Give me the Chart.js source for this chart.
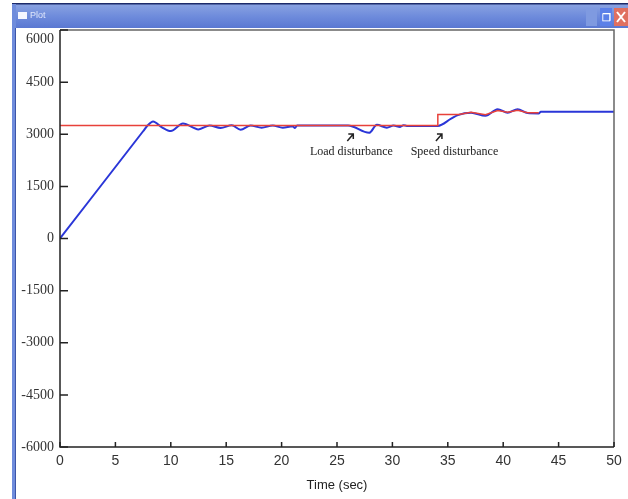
<!DOCTYPE html>
<html>
<head>
<meta charset="utf-8">
<script src="https://cdn.jsdelivr.net/npm/chart.js@4/dist/chart.umd.min.js"></script>
<style>
html, body { margin: 0; padding: 0; background: #fff; }
#wrap { width: 628px; height: 499px; position: relative; }
</style>
</head>
<body>
<div id="wrap"><canvas id="plot" width="628" height="499"></canvas></div>
<script>
// reference (set point) speed
const refTime  = [0, 34.1, 34.1, 36.0, 37.1, 38.4, 39.5, 40.4, 41.3, 42.2, 43.2];
const refSpeed = [3250, 3250, 3570, 3570, 3630, 3560, 3680, 3630, 3690, 3620, 3620];

// measured speed
const motorTime  = [0, 7.5, 7.9, 8.4, 9.2, 10.0, 11.1, 12.5, 13.5, 14.5, 15.5, 16.3, 17.2, 18.2, 19.2, 20.1, 21.0, 21.2, 21.4,
                    26.0, 27.9, 28.6, 29.5, 30.1, 30.7, 31.0, 31.3, 34.1, 35.3, 35.9, 37.1, 38.4, 39.5, 40.4, 41.3, 42.2, 43.2, 43.4, 50];
const motorSpeed = [0, 3086, 3250, 3370, 3200, 3090, 3310, 3140, 3250, 3180, 3260, 3130, 3250, 3190, 3250, 3190, 3230, 3180, 3250,
                    3250, 3040, 3270, 3190, 3250, 3210, 3260, 3240, 3240, 3447, 3550, 3620, 3530, 3720, 3620, 3720, 3610, 3600, 3650, 3650];

const yTicks = [-6000, -4500, -3000, -1500, 0, 1500, 3000, 4500, 6000];
const xTicks = [0, 5, 10, 15, 20, 25, 30, 35, 40, 45, 50];

const notes = [
    { text: 'Load disturbance',  x: 26.3, y: 2480, ax: 26.2, ay: 2950 },
    { text: 'Speed disturbance', x: 35.6, y: 2480, ax: 34.2, ay: 2950 }
];

function toPoints(xs, ys){
    return xs.map((x, i) => ({ x: x, y: ys[i] }));
}

function yLabel(v){
    return v < 0 ? '-' + String(Math.abs(v)) : String(v);
}

// window frame, plot box, inward ticks and notes
const framePlugin = {
    id: 'frame',
    beforeDraw(chart){
        const ctx = chart.ctx;
        ctx.save();
        ctx.fillStyle = '#fff';
        ctx.fillRect(0, 0, chart.width, chart.height);
        // title bar
        const g = ctx.createLinearGradient(0, 4, 0, 28);
        g.addColorStop(0, '#8aa3e2');
        g.addColorStop(0.5, '#6f8cdc');
        g.addColorStop(1, '#5a78d2');
        ctx.fillStyle = g;
        ctx.fillRect(12, 4, 616, 24);
        ctx.fillStyle = '#1c2a6a';
        ctx.fillRect(12, 3, 616, 1.5);
        // left border
        ctx.fillStyle = '#6f8cdc';
        ctx.fillRect(12, 4, 4, 495);
        ctx.fillStyle = '#3c55a8';
        ctx.fillRect(15, 28, 1, 471);
        // icon + caption
        ctx.fillStyle = '#f4f6ff';
        ctx.fillRect(18, 12, 9, 7);
        ctx.fillStyle = '#dfe6fb';
        ctx.font = '9px "Liberation Sans"';
        ctx.textBaseline = 'middle';
        ctx.fillText('Plot', 30, 16);
        // buttons
        ctx.fillStyle = '#7f9ae0';
        ctx.fillRect(586, 8, 11, 18);
        ctx.fillStyle = '#5b80e8';
        ctx.fillRect(600, 8, 12, 18);
        ctx.fillStyle = '#fff';
        ctx.font = 'bold 10px "Liberation Sans"';
        ctx.textAlign = 'center';
        ctx.fillText('\u2750', 606, 18);
        ctx.fillStyle = '#e07060';
        ctx.fillRect(614, 8, 14, 18);
        ctx.strokeStyle = '#fff';
        ctx.lineWidth = 2;
        ctx.beginPath();
        ctx.moveTo(617, 12); ctx.lineTo(625, 22);
        ctx.moveTo(625, 12); ctx.lineTo(617, 22);
        ctx.stroke();
        ctx.restore();
    },
    afterDatasetsDraw(chart){
        const ctx = chart.ctx;
        const a = chart.chartArea;
        const xs = chart.scales.x;
        const ys = chart.scales.y;
        ctx.save();
        // plot box
        ctx.strokeStyle = '#666';
        ctx.lineWidth = 1.5;
        ctx.beginPath();
        ctx.moveTo(a.left, a.top);
        ctx.lineTo(a.right, a.top);
        ctx.lineTo(a.right, a.bottom);
        ctx.stroke();
        ctx.strokeStyle = '#222';
        ctx.beginPath();
        ctx.moveTo(a.left, a.top);
        ctx.lineTo(a.left, a.bottom);
        ctx.lineTo(a.right, a.bottom);
        ctx.stroke();
        // inward ticks
        ctx.lineWidth = 1.5;
        ctx.beginPath();
        yTicks.forEach(v => {
            const py = ys.getPixelForValue(v);
            ctx.moveTo(a.left, py);
            ctx.lineTo(a.left + 8, py);
        });
        xTicks.forEach(v => {
            const px = xs.getPixelForValue(v);
            ctx.moveTo(px, a.bottom);
            ctx.lineTo(px, a.bottom - 5);
        });
        ctx.stroke();
        // y tick labels (top one sits a little below the box edge, as in the original)
        ctx.fillStyle = '#333';
        ctx.font = '14px "Liberation Serif"';
        ctx.textAlign = 'right';
        ctx.textBaseline = 'middle';
        yTicks.forEach(v => {
            const py = Math.max(ys.getPixelForValue(v), a.top + 9);
            ctx.fillText(yLabel(v), a.left - 6, py);
        });
        // notes
        ctx.fillStyle = '#222';
        ctx.strokeStyle = '#222';
        ctx.font = '12px "Liberation Serif"';
        ctx.textAlign = 'center';
        notes.forEach(n => {
            ctx.fillText(n.text, xs.getPixelForValue(n.x), ys.getPixelForValue(n.y));
            const px = xs.getPixelForValue(n.ax);
            const py = ys.getPixelForValue(n.ay);
            ctx.lineWidth = 1.5;
            ctx.beginPath();
            ctx.moveTo(px - 3, py + 5);
            ctx.lineTo(px + 3, py - 2);
            ctx.moveTo(px - 2, py - 2);
            ctx.lineTo(px + 3, py - 2);
            ctx.lineTo(px + 3, py + 3);
            ctx.stroke();
        });
        ctx.restore();
    }
};

new Chart(document.getElementById('plot'), {
    type: 'line',
    data: {
        datasets: [{
            label: 'Reference',
            data: toPoints(refTime, refSpeed),
            borderColor: '#e8413a',
            borderWidth: 1.5,
            pointRadius: 0,
            tension: 0,
            fill: false
        }, {
            label: 'Speed',
            data: toPoints(motorTime, motorSpeed),
            borderColor: '#2a36d8',
            borderWidth: 2,
            pointRadius: 0,
            cubicInterpolationMode: 'monotone',
            fill: false
        }]
    },
    options: {
        responsive: false,
        animation: false,
        layout: { padding: { left: 16, right: 14, top: 30, bottom: 0 } },
        plugins: { legend: { display: false }, tooltip: { enabled: false } },
        scales: {
            x: {
                type: 'linear',
                min: 0,
                max: 50,
                afterBuildTicks: s => { s.ticks = xTicks.map(v => ({ value: v })); },
                afterFit: s => { s.height = 52; },
                grid: { display: false, drawTicks: false },
                border: { display: false },
                ticks: {
                    padding: 6,
                    color: '#333',
                    font: { family: '"Liberation Sans"', size: 14 },
                    callback: v => String(v)
                },
                title: {
                    display: true,
                    text: 'Time (sec)',
                    color: '#222',
                    font: { family: '"Liberation Sans"', size: 13 },
                    padding: { top: 0, bottom: 6 }
                }
            },
            y: {
                min: -6000,
                max: 6000,
                afterBuildTicks: s => { s.ticks = yTicks.map(v => ({ value: v })); },
                afterFit: s => { s.width = 44; },
                grid: { display: false, drawTicks: false },
                border: { display: false },
                ticks: { display: false }
            }
        }
    },
    plugins: [framePlugin]
});
</script>
</body>
</html>
